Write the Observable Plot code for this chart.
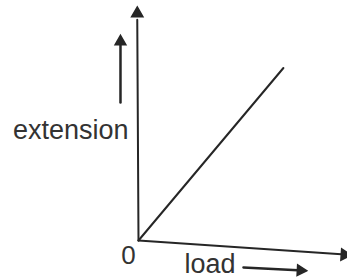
<!DOCTYPE html>
<html>
<head>
<meta charset="utf-8">
<script src="https://cdn.jsdelivr.net/npm/d3@7"></script>
<script src="https://cdn.jsdelivr.net/npm/@observablehq/plot@0.6"></script>
<style>
  html, body { margin: 0; padding: 0; background: #fff; }
  #chart svg { display: block; }
</style>
</head>
<body>
<div id="chart"></div>
<script>
// Data (arbitrary units)
const load = [0, 7];
const extension = [0, 7.5];
const xLabel = "load";
const yLabel = "extension";
const originLabel = "0";

const pts = load.map((l, i) => ({load: l, extension: extension[i]}));
const ink = "#262626";
const font = "Liberation Sans, Arial, Helvetica, sans-serif";

const chart = Plot.plot({
  width: 347,
  height: 280,
  marginLeft: 138,
  marginRight: 2,
  marginTop: 10,
  marginBottom: 40,
  style: {background: "#fff", fontFamily: font, overflow: "visible"},
  x: {domain: [0, 10], axis: null},
  y: {domain: [0, 10], axis: null},
  marks: [
    // y axis
    Plot.line([[0, 0], [-0.06, 9.6]], {x: d => d[0], y: d => d[1], stroke: ink, strokeWidth: 2}),
    Plot.dot([[-0.06, 10]], {x: d => d[0], y: d => d[1], symbol: "triangle", r: 4.2, fill: ink, stroke: ink, dy: 3}),
    // x axis (slightly skewed as in the scan)
    Plot.line([[0, 0], [9.8, -0.6]], {x: d => d[0], y: d => d[1], stroke: ink, strokeWidth: 2}),
    Plot.dot([[10.05, -0.62]], {x: d => d[0], y: d => d[1], symbol: "triangle", r: 4.2, fill: ink, stroke: ink, rotate: 94, dx: -2}),
    // data line
    Plot.line(pts, {x: "load", y: "extension", stroke: ink, strokeWidth: 2}),
    // small arrow beside y label
    Plot.line([[-0.87, 6.0], [-0.87, 8.5]], {x: d => d[0], y: d => d[1], stroke: ink, strokeWidth: 2.5}),
    Plot.dot([[-0.87, 8.78]], {x: d => d[0], y: d => d[1], symbol: "triangle", r: 4, fill: ink, stroke: ink, dy: 3}),
    // small arrow beside x label
    Plot.line([[5.07, -1.17], [7.7, -1.29]], {x: d => d[0], y: d => d[1], stroke: ink, strokeWidth: 2.5}),
    Plot.dot([[7.97, -1.3]], {x: d => d[0], y: d => d[1], symbol: "triangle", r: 4, fill: ink, stroke: ink, rotate: 93, dx: -3}),
    // labels
    Plot.text([yLabel], {x: 0, y: 4.8, dx: -10, text: d => d, textAnchor: "end", fontSize: 27, fill: "#333"}),
    Plot.text([originLabel], {x: 0, y: -0.64, dx: -10, text: d => d, textAnchor: "middle", fontSize: 26, fill: "#333"}),
    Plot.text([xLabel], {x: 3.45, y: -1.02, text: d => d, textAnchor: "middle", fontSize: 27, fill: "#333"})
  ]
});
document.getElementById("chart").appendChild(chart);
</script>
</body>
</html>
